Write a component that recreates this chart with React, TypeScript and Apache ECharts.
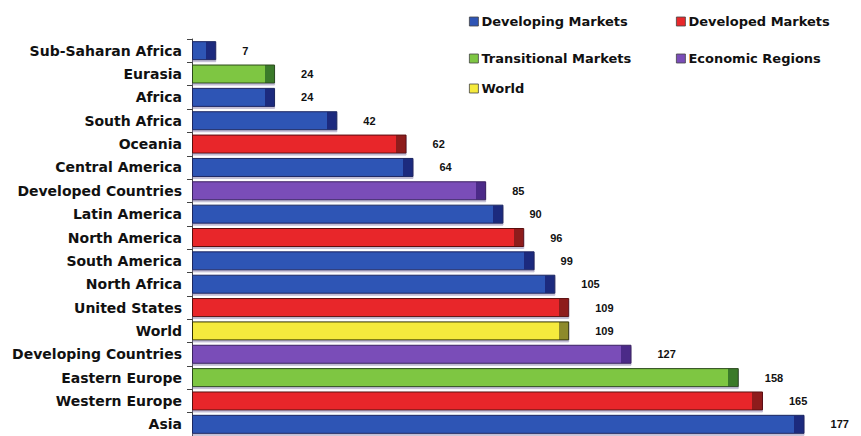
import React, { useEffect, useRef } from "react";
import * as echarts from "echarts";

const categories = [
  "Sub-Saharan Africa", "Eurasia", "Africa", "South Africa", "Oceania",
  "Central America", "Developed Countries", "Latin America", "North America",
  "South America", "North Africa", "United States", "World",
  "Developing Countries", "Eastern Europe", "Western Europe", "Asia",
];
const values = [7, 24, 24, 42, 62, 64, 85, 90, 96, 99, 105, 109, 109, 127, 158, 165, 177];
const groups = [
  "Developing Markets", "Transitional Markets", "Developing Markets", "Developing Markets",
  "Developed Markets", "Developing Markets", "Economic Regions", "Developing Markets",
  "Developed Markets", "Developing Markets", "Developing Markets", "Developed Markets",
  "World", "Economic Regions", "Transitional Markets", "Developed Markets", "Developing Markets",
];
const seriesNames = ["Developing Markets", "Developed Markets", "Transitional Markets", "Economic Regions", "World"];

const palette: Record<string, { main: string; cap: string; edge: string }> = {
  "Developing Markets": { main: "#2f55b5", cap: "#1d2c7e", edge: "#1a2560" },
  "Developed Markets": { main: "#e8282b", cap: "#8e1c1f", edge: "#5a1010" },
  "Transitional Markets": { main: "#7ec643", cap: "#3b7a2c", edge: "#2c4a1c" },
  "Economic Regions": { main: "#7a4db8", cap: "#4b2a88", edge: "#3a2060" },
  World: { main: "#f5ea3c", cap: "#8d8a2c", edge: "#333300" },
};

const CAP_UNITS = 2.9;

export default function App() {
  const ref = useRef<HTMLDivElement>(null);
  useEffect(() => {
    if (!ref.current) return;
    const chart = echarts.init(ref.current, undefined, { renderer: "svg" });
    const font = "DejaVu Sans";
    const series = seriesNames.map((name) => {
      const p = palette[name];
      return {
        name,
        type: "bar",
        stack: "all",
        barWidth: 19,
        itemStyle: { color: p.main, borderColor: p.edge, borderWidth: 1 },
        label: {
          show: true,
          position: "right",
          distance: 26,
          color: "#111",
          fontFamily: "Liberation Sans",
          fontWeight: "bold",
          fontSize: 11,
          formatter: (pr: any) => (pr.value == null || pr.value === "-" ? "" : String(pr.value)),
        },
        data: values.map((v, i) => {
          if (groups[i] !== name) return "-";
          const o = Math.max(0.05, 1 - CAP_UNITS / v);
          return {
            value: v,
            itemStyle: {
              color: new echarts.graphic.LinearGradient(0, 0, 1, 0, [
                { offset: 0, color: p.main },
                { offset: o, color: p.main },
                { offset: o, color: p.cap },
                { offset: 1, color: p.cap },
              ]),
              shadowColor: "rgba(120,110,160,0.45)",
              shadowOffsetY: 2,
              shadowBlur: 1,
            },
          };
        }),
      };
    });
    const legendPos: [string, number, number][] = [
      ["Developing Markets", 464, 10],
      ["Developed Markets", 671, 10],
      ["Transitional Markets", 464, 47],
      ["Economic Regions", 671, 47],
      ["World", 464, 77],
    ];
    chart.setOption({
      animation: false,
      backgroundColor: "#ffffff",
      legend: legendPos.map(([n, x, y]) => ({
        data: [n],
        left: x,
        top: y,
        itemWidth: 9,
        itemHeight: 9,
        icon: "rect",
        itemStyle: { borderColor: "#444", borderWidth: 0.8 },
        selectedMode: false,
        textStyle: { fontFamily: font, fontWeight: "bold", fontSize: 13, color: "#111", padding: [0, 0, 0, -2] },
      })),
      grid: { left: 192, right: 11.5, top: 39, height: 398 },
      xAxis: { type: "value", min: 0, max: 190, show: false },
      yAxis: {
        type: "category",
        inverse: true,
        data: categories,
        axisLine: { show: true, lineStyle: { color: "#444", width: 1 } },
        axisTick: { show: true, length: 5, lineStyle: { color: "#444" } },
        axisLabel: { color: "#111", fontFamily: font, fontWeight: "bold", fontSize: 14, margin: 10 },
      },
      series,
    });
    return () => chart.dispose();
  }, []);
  return <div ref={ref} style={{ width: 861, height: 436, position: "absolute", left: 0, top: 0 }} />;
}
